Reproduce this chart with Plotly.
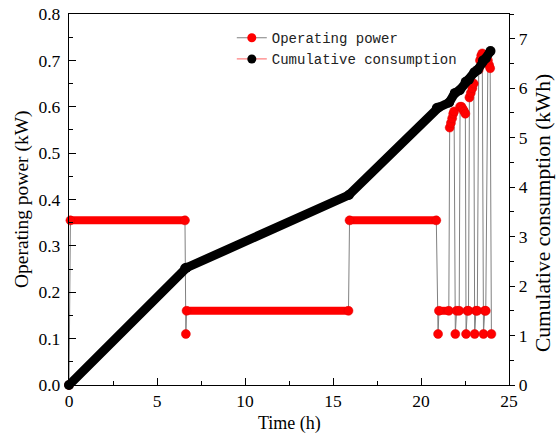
import plotly.graph_objects as go

# ---- data ----
# Operating power (kW): samples in time order (h)
power_times = [0.0, 0.08, 6.59, 6.64, 6.68, 15.88, 15.94, 20.87,
               20.97, 21.02, 21.58,
               21.63, 21.70, 21.77, 21.83, 21.88,
               21.95, 22.02, 22.17,
               22.22, 22.30, 22.38, 22.45, 22.52,
               22.56, 22.63, 22.70,
               22.75, 22.83, 22.92, 23.00,
               23.05, 23.12, 23.20,
               23.28, 23.35, 23.42, 23.48,
               23.55, 23.62, 23.68,
               23.80, 23.87, 23.93,
               24.00]
power_values = [0.0, 0.355, 0.355, 0.11, 0.16, 0.16, 0.355, 0.355,
                0.11, 0.16, 0.16,
                0.555, 0.565, 0.575, 0.585, 0.59,
                0.11, 0.16, 0.16,
                0.60, 0.60, 0.595, 0.59, 0.585,
                0.11, 0.16, 0.16,
                0.62, 0.63, 0.64, 0.65,
                0.11, 0.16, 0.16,
                0.68, 0.70, 0.71, 0.715,
                0.11, 0.16, 0.16,
                0.70, 0.69, 0.683,
                0.11]

# Cumulative consumption (kWh)
cum_times = [0.0, 6.6, 6.68, 15.9, 20.9, 21.0, 21.6, 21.92, 22.2, 22.54,
             22.72, 23.03, 23.22, 23.52, 23.68, 23.95]
cum_values = [0.0, 2.36, 2.37, 3.84, 5.6, 5.61, 5.71, 5.9, 5.96, 6.13,
              6.17, 6.32, 6.37, 6.56, 6.6, 6.75]

x_ticks = [0, 5, 10, 15, 20, 25]
left_ticks = [0.0, 0.1, 0.2, 0.3, 0.4, 0.5, 0.6, 0.7, 0.8]
right_ticks = [0, 1, 2, 3, 4, 5, 6, 7]

RED = "#ff0000"
GREY = "#808080"
SERIF = "Liberation Serif, Times New Roman, serif"
MONO = "Liberation Mono, DejaVu Sans Mono, monospace"

# plateau segments (consecutive samples with equal value)
px, py = [], []
for i in range(len(power_times) - 1):
    if power_values[i] == power_values[i + 1]:
        px += [power_times[i], power_times[i + 1], None]
        py += [power_values[i], power_values[i + 1], None]

fig = go.Figure()

# thin grey connecting line
fig.add_trace(go.Scatter(x=power_times, y=power_values, mode="lines",
                         line=dict(color=GREY, width=1), showlegend=False,
                         hoverinfo="skip", cliponaxis=False))
# dense red plateaus
fig.add_trace(go.Scatter(x=px, y=py, mode="lines",
                         line=dict(color=RED, width=8), showlegend=False,
                         hoverinfo="skip", cliponaxis=False))
# red markers
fig.add_trace(go.Scatter(x=power_times, y=power_values, mode="markers",
                         marker=dict(color=RED, size=9,
                                     line=dict(color="#e00000", width=0.5)),
                         showlegend=False, cliponaxis=False))
# cumulative consumption (black) on right axis
fig.add_trace(go.Scatter(x=cum_times, y=cum_values, mode="lines+markers",
                         line=dict(color="black", width=9),
                         marker=dict(color="black", size=10),
                         yaxis="y2", showlegend=False, cliponaxis=False))

# legend-only entries
fig.add_trace(go.Scatter(x=[None], y=[None], mode="lines+markers",
                         name="Operating power",
                         line=dict(color=GREY, width=1.2),
                         marker=dict(color=RED, size=9)))
fig.add_trace(go.Scatter(x=[None], y=[None], mode="lines+markers",
                         name="Cumulative consumption",
                         line=dict(color="#ff8080", width=1.2),
                         marker=dict(color="black", size=9)))

axis_common = dict(showline=True, linecolor="black", linewidth=1.3,
                   showgrid=False, zeroline=False, tickcolor="black",
                   tickwidth=1.2, ticklabeloverflow="allow",
                   tickfont=dict(family=SERIF, size=17.5, color="black"))

fig.update_layout(
    width=560, height=434,
    margin=dict(l=69, r=51, t=14, b=49, autoexpand=False),
    paper_bgcolor="white", plot_bgcolor="white",
    xaxis=dict(range=[0, 25], tickvals=x_ticks, ticks="inside", ticklen=7,
               minor=dict(ticks="inside", ticklen=4, dtick=2.5,
                          tickcolor="black", tickwidth=1.2),
               mirror=True, **axis_common),
    yaxis=dict(range=[0, 0.8], tickvals=left_ticks, tickformat=".1f",
               ticks="inside", ticklen=7, ticklabelstandoff=4,
               minor=dict(ticks="inside", ticklen=4, dtick=0.05,
                          tickcolor="black", tickwidth=1.2),
               **axis_common),
    yaxis2=dict(range=[0, 7.5], tickvals=right_ticks, overlaying="y",
                side="right", ticks="outside", ticklen=5,
                minor=dict(ticks="outside", ticklen=3.5, dtick=0.5,
                           tickcolor="black", tickwidth=1.2),
                **axis_common),
    legend=dict(x=0.37, y=0.978, xanchor="left", yanchor="top",
                bgcolor="rgba(0,0,0,0)",
                font=dict(family=MONO, size=14, color="#222"),
                tracegroupgap=0),
    showlegend=True,
    annotations=[
        dict(text="Time (h)", xref="paper", yref="paper",
             x=0.5, y=(385 - 423) / 371, showarrow=False,
             xanchor="center", yanchor="middle",
             font=dict(family=SERIF, size=18, color="black")),
        dict(text="Operating power (kW)", xref="paper", yref="paper",
             x=(22 - 69) / 440, y=(385 - 199) / 371, textangle=-90,
             xanchor="center", yanchor="middle", showarrow=False,
             font=dict(family=SERIF, size=19.5, color="black")),
        dict(text="Cumulative consumption (kWh)", xref="paper", yref="paper",
             x=(543 - 69) / 440, y=(385 - 213) / 371, textangle=-90,
             xanchor="center", yanchor="middle", showarrow=False,
             font=dict(family=SERIF, size=21.5, color="black")),
    ],
)

# remove the default page margin so the figure sits at the window's corner
fig.write_html("out.html",
               config={"displayModeBar": False},
               post_script="document.body.style.margin='0px';")
